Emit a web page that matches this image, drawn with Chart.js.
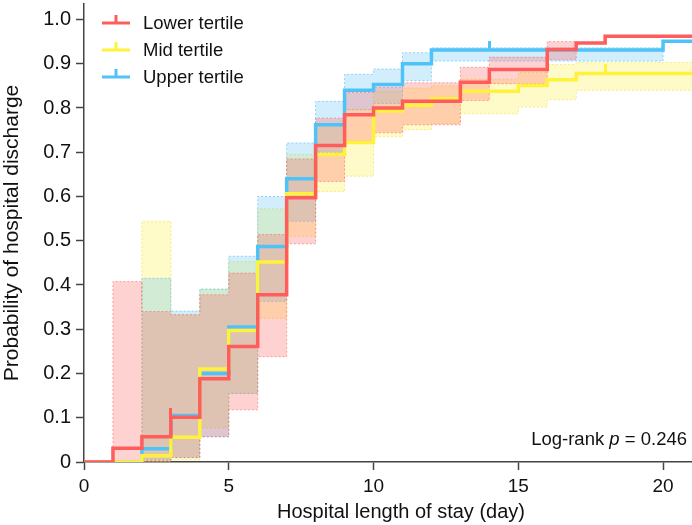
<!DOCTYPE html>
<html><head><meta charset="utf-8">
<script src="https://cdn.jsdelivr.net/npm/chart.js@4/dist/chart.umd.min.js"></script>
<style>html,body{margin:0;padding:0;background:#fff}#wrap{width:692px;height:525px}</style>
</head><body><div id="wrap"><canvas id="c" width="692" height="525"></canvas></div>
<script>
// ---- data (interval start days; each value holds until the next day) ----
const days = [0,1,2,3,4,5,6,7,8,9,10,11,12,13,14,15,16,17,18,19,20];
const followUpEnd = 21;
const xTicks = [0,5,10,15,20];
const yTicks = [0,0.1,0.2,0.3,0.4,0.5,0.6,0.7,0.8,0.9,1.0];
const seriesNames = ['Lower tertile','Mid tertile','Upper tertile'];
const xTitle = 'Hospital length of stay (day)';
const yTitle = 'Probability of hospital discharge';

const lowerEst = [0,0.031,0.057,0.101,0.188,0.261,0.378,0.597,0.715,0.785,0.800,0.815,0.815,0.858,0.887,0.887,0.932,0.947,0.962,0.962,0.962];
const lowerUp  = [0,0.408,0.340,0.333,0.378,0.427,0.514,0.685,0.777,0.835,0.847,0.857,0.857,0.892,0.915,0.915,0.950,0.947,0.962,0.962,0.962];
const lowerLo  = [0,0.000,0.003,0.010,0.057,0.118,0.238,0.493,0.634,0.725,0.744,0.762,0.762,0.817,0.855,0.855,0.909,0.947,0.962,0.962,0.962];
const lowerCensor = [3];

const midEst = [0,0,0.014,0.056,0.210,0.297,0.452,0.606,0.695,0.722,0.793,0.806,0.821,0.838,0.838,0.851,0.864,0.878,0.878,0.878,0.878];
const midUp  = [0,0,0.544,0.333,0.390,0.453,0.572,0.695,0.762,0.796,0.838,0.845,0.850,0.865,0.865,0.880,0.898,0.903,0.903,0.903,0.903];
const midLo  = [0,0,0.000,0.005,0.077,0.155,0.325,0.510,0.611,0.646,0.735,0.751,0.765,0.787,0.787,0.802,0.819,0.840,0.840,0.840,0.840];
const midCensor = [18];

const upperEst = [0,0,0.030,0.105,0.200,0.305,0.487,0.640,0.762,0.840,0.853,0.900,0.931,0.931,0.931,0.931,0.931,0.931,0.931,0.931,0.951];
const upperUp  = [0,0,0.415,0.341,0.391,0.465,0.600,0.721,0.815,0.876,0.888,0.925,0.936,0.936,0.936,0.936,0.936,0.936,0.936,0.936,0.951];
const upperLo  = [0,0,0.005,0.010,0.057,0.155,0.363,0.544,0.700,0.796,0.810,0.862,0.906,0.906,0.906,0.906,0.906,0.906,0.906,0.906,0.951];
const upperCensor = [14];

const logRankP = '0.246';

// ---- styles ----
const FONT = '"Liberation Sans", Arial, sans-serif';
const lineCols = ['#ff5c5c','#fff23c','#4fc3f7'];
const bandCols = ['rgba(255,90,90,0.27)','rgba(255,240,60,0.28)','rgba(80,190,245,0.26)'];
const bandBorder = ['rgba(255,90,90,0.55)','rgba(240,220,60,0.6)','rgba(80,190,245,0.6)'];

function pts(vals){
  const p = days.map((d,i)=>({x:d,y:vals[i]}));
  p.push({x:followUpEnd,y:vals[vals.length-1]});
  return p;
}
function valueAt(vals,t){
  let v = vals[0];
  days.forEach((d,i)=>{ if(d<=t) v = vals[i]; });
  return v;
}
function tickImg(color){
  const c = document.createElement('canvas');
  c.width = 3; c.height = 18;
  const g = c.getContext('2d');
  g.fillStyle = color; g.fillRect(0,0,3,9);
  return c;
}

const groups = [
  {est:lowerEst, up:lowerUp, lo:lowerLo, cen:lowerCensor},
  {est:midEst, up:midUp, lo:midLo, cen:midCensor},
  {est:upperEst, up:upperUp, lo:upperLo, cen:upperCensor}
];
const lineOrder = [0,1,2];
const bandOrder = [3,5,4];

const datasets = [];
groups.forEach((g,k)=>{
  datasets.push({label:seriesNames[k]+' lo', data:pts(g.lo), stepped:'before', borderColor:bandBorder[k], borderWidth:1, borderDash:[2,2], pointRadius:0, fill:false, order:bandOrder[k]});
  datasets.push({label:seriesNames[k]+' up', data:pts(g.up), stepped:'before', borderColor:bandBorder[k], borderWidth:1, borderDash:[2,2], pointRadius:0, backgroundColor:bandCols[k], fill:'-1', order:bandOrder[k]});
});
groups.forEach((g,k)=>{
  datasets.push({label:seriesNames[k], data:pts(g.est), stepped:'before', borderColor:lineCols[k], borderWidth:3.5, pointRadius:0, fill:false, order:lineOrder[k]});
  datasets.push({label:seriesNames[k]+' censor', type:'scatter', data:g.cen.map(t=>({x:t,y:valueAt(g.est,t)})), pointStyle:tickImg(lineCols[k]), pointRadius:9, order:-1});
});

const overlay = {
  id:'overlay',
  afterDraw(chart){
    const ctx = chart.ctx, a = chart.chartArea;
    ctx.save();
    // legend
    ctx.font = '18.5px ' + FONT;
    ctx.textBaseline = 'middle';
    seriesNames.forEach((n,k)=>{
      const y = a.top + 19 + k*27;
      const x0 = a.left + 18;
      ctx.strokeStyle = lineCols[k]; ctx.lineWidth = 3;
      ctx.beginPath(); ctx.moveTo(x0,y); ctx.lineTo(x0+28,y); ctx.stroke();
      ctx.beginPath(); ctx.moveTo(x0+14,y); ctx.lineTo(x0+14,y-8); ctx.stroke();
      ctx.fillStyle = '#111';
      ctx.fillText(n, x0+41, y+1);
    });
    // x-axis title
    ctx.font = '20px ' + FONT;
    ctx.textAlign = 'center';
    ctx.fillStyle = '#111';
    ctx.fillText(xTitle, (a.left + a.right)/2 + 13, chart.height - 13);
    ctx.textAlign = 'left';
    // log-rank annotation
    ctx.textBaseline = 'alphabetic';
    const f = '18.5px ' + FONT;
    const fi = 'italic 18.5px ' + FONT;
    const parts = [['Log-rank ',f],['p',fi],[' = '+logRankP,f]];
    let w = 0;
    parts.forEach(p=>{ctx.font=p[1]; w+=ctx.measureText(p[0]).width;});
    let x = a.right - 5 - w; const y = a.bottom - 17;
    parts.forEach(p=>{ctx.font=p[1]; ctx.fillText(p[0],x,y); x+=ctx.measureText(p[0]).width;});
    ctx.restore();
  }
};

new Chart(document.getElementById('c'), {
  type:'line',
  data:{datasets},
  options:{
    responsive:false, animation:false, devicePixelRatio:1,
    layout:{autoPadding:false, padding:{top:4,right:0,left:0,bottom:0}},
    plugins:{legend:{display:false}, tooltip:{enabled:false}},
    scales:{
      x:{type:'linear', min:0, max:followUpEnd,
        afterBuildTicks(s){ s.ticks = xTicks.map(v=>({value:v})); },
        afterFit(s){ s.height = 63; s.paddingLeft = 0; s.paddingRight = 0; },
        ticks:{font:{size:19,family:FONT}, color:'#111', padding:5, maxRotation:0},
        grid:{drawOnChartArea:false, drawTicks:true, tickLength:8, tickColor:'#444', tickWidth:1.5},
        border:{color:'#444', width:1.5},
        title:{display:false}
      },
      y:{type:'linear', min:0, max:1.035,
        afterBuildTicks(s){ s.ticks = yTicks.map(v=>({value:v})); },
        afterFit(s){ s.width = 84; s.paddingTop = 0; s.paddingBottom = 0; },
        ticks:{font:{size:20,family:FONT}, color:'#111', padding:5, callback:v=> v===0?'0':v.toFixed(1)},
        grid:{drawOnChartArea:false, drawTicks:true, tickLength:8, tickColor:'#444', tickWidth:1.5},
        border:{color:'#444', width:1.5},
        title:{display:true, text:yTitle, font:{size:21,family:FONT}, color:'#111', padding:{top:0,bottom:0}}
      }
    }
  },
  plugins:[overlay]
});
</script></body></html>
